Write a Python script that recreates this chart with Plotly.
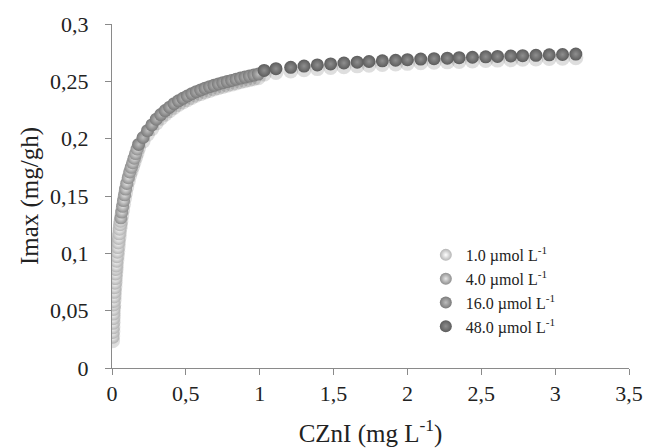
import plotly.graph_objects as go

# ---- data ----
x_1 = [0.004, 0.005, 0.006, 0.007, 0.008, 0.009, 0.010, 0.011, 0.012, 0.014,
       0.016, 0.018, 0.020, 0.022, 0.024, 0.026, 0.028, 0.030, 0.033, 0.036,
       0.039, 0.042, 0.045, 0.048, 0.051, 0.054, 0.057]
y_1 = [0.027, 0.031, 0.035, 0.039, 0.043, 0.047, 0.051, 0.055, 0.058, 0.062,
       0.066, 0.070, 0.074, 0.078, 0.082, 0.086, 0.089, 0.093, 0.097, 0.101,
       0.105, 0.109, 0.113, 0.117, 0.121, 0.125, 0.128]

x_4 = [0.060, 0.066, 0.072, 0.078, 0.085, 0.092, 0.100, 0.110, 0.120, 0.130,
       0.140, 0.150, 0.160, 0.170]
y_4 = [0.131, 0.136, 0.141, 0.146, 0.151, 0.156, 0.161, 0.166, 0.171, 0.175,
       0.179, 0.183, 0.187, 0.191]

x_16 = [0.18, 0.21, 0.24, 0.27, 0.30, 0.33, 0.36, 0.39, 0.42, 0.45,
        0.48, 0.51, 0.54, 0.57, 0.60, 0.63, 0.66, 0.69, 0.72, 0.75,
        0.78, 0.81, 0.84, 0.87, 0.90, 0.93, 0.96, 0.99]
y_16 = [0.195, 0.201, 0.207, 0.212, 0.217, 0.221, 0.2245, 0.2275, 0.2305, 0.233,
        0.2352, 0.2372, 0.2392, 0.241, 0.2425, 0.244, 0.2453, 0.2465, 0.2477, 0.2488,
        0.2498, 0.2508, 0.2518, 0.2528, 0.2537, 0.2546, 0.2555, 0.2563]

x_48 = [1.03, 1.11, 1.21, 1.30, 1.39, 1.48, 1.57, 1.66, 1.74, 1.83,
        1.92, 2.00, 2.09, 2.18, 2.27, 2.35, 2.44, 2.53, 2.61, 2.70,
        2.78, 2.87, 2.96, 3.05, 3.14]
y_48 = [0.2595, 0.2610, 0.2622, 0.2633, 0.2643, 0.2652, 0.2660, 0.2667, 0.2673, 0.2679,
        0.2684, 0.2689, 0.2694, 0.2698, 0.2702, 0.2706, 0.2710, 0.2714, 0.2717, 0.2721,
        0.2724, 0.2727, 0.2731, 0.2734, 0.2738]

series_names = ["1.0 µmol L<sup>-1</sup>", "4.0 µmol L<sup>-1</sup>",
                "16.0 µmol L<sup>-1</sup>", "48.0 µmol L<sup>-1</sup>"]
x_ticks = [0, 0.5, 1, 1.5, 2, 2.5, 3, 3.5]
y_ticks = [0, 0.05, 0.1, 0.15, 0.2, 0.25, 0.3]

# ---- styles ----
edge_cols = ["#b4b4b4", "#8e8e8e", "#7a7a7a", "#5c5c5c"]
center_cols = ["#ffffff", "#e6e6e6", "#bdbdbd", "#8f8f8f"]
FONT = "Liberation Serif"
SIZE = 13

fig = go.Figure()
data = [(x_1, y_1), (x_4, y_4), (x_16, y_16), (x_48, y_48)]

# soft shadows (drawn on hidden, slightly shifted axis underneath)
for xs, ys in data:
    fig.add_trace(go.Scatter(
        x=xs, y=ys, mode="markers", yaxis="y", showlegend=False, hoverinfo="skip",
        marker=dict(size=SIZE + 2, color="rgba(0,0,0,0.13)", line=dict(width=0)),
    ))

for (xs, ys), name, ec, cc in zip(data, series_names, edge_cols, center_cols):
    fig.add_trace(go.Scatter(
        x=xs, y=ys, mode="markers", name=name, yaxis="y2",
        marker=dict(size=SIZE, color=ec, line=dict(width=0),
                    gradient=dict(type="radial", color=cc)),
    ))

fig.update_layout(
    width=645, height=448,
    margin=dict(l=112, r=16, t=24, b=80),
    paper_bgcolor="white", plot_bgcolor="white",
    separators=", ",
    font=dict(family=FONT, color="#222222"),
    xaxis=dict(range=[0, 3.5], tickvals=x_ticks, showgrid=False, zeroline=False,
               showline=True, linecolor="#8a8a8a", linewidth=1,
               ticks="outside", ticklen=6, tickcolor="#8a8a8a",
               tickfont=dict(size=22, family=FONT, color="#222"),
               title=dict(text="CZnI (mg L<sup>-1</sup>)", font=dict(size=25, family=FONT, color="#222"),
                          standoff=19),
               anchor="y", automargin=False),
    yaxis=dict(range=[0.0032, 0.3032], visible=False, showgrid=False, zeroline=False,
               automargin=False),
    yaxis2=dict(range=[0, 0.3], tickvals=y_ticks, overlaying="y", side="left",
                showgrid=False, zeroline=False, automargin=False,
                showline=True, linecolor="#8a8a8a", linewidth=1,
                ticks="outside", ticklen=6, tickcolor="#8a8a8a",
                tickfont=dict(size=22, family=FONT, color="#222"),
                ticklabelstandoff=12,
                title=dict(text="Imax (mg/gh)", font=dict(size=25, family=FONT, color="#222"),
                           standoff=4)),
    legend=dict(x=0.607, y=0.378, xanchor="left", yanchor="top",
                font=dict(size=16, family=FONT, color="#222"),
                bgcolor="rgba(0,0,0,0)", tracegroupgap=0, itemsizing="constant"),
    showlegend=True,
)

fig.write_html("out.html")
